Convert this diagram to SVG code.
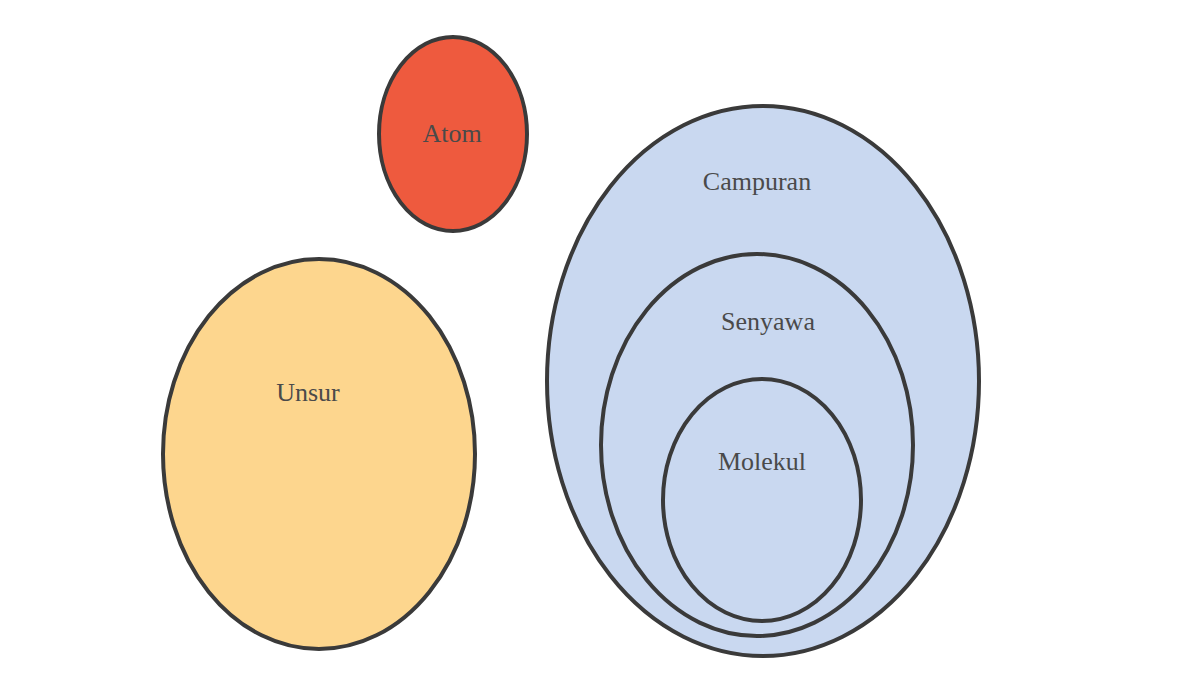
<svg xmlns="http://www.w3.org/2000/svg" width="1200" height="675" viewBox="0 0 1200 675">
<style>
.c{stroke:#3a3a3a;stroke-width:4}
.t{font-family:"Liberation Serif",serif;font-size:26px;fill:#4a4a4a;text-anchor:middle}
</style>
<rect width="1200" height="675" fill="#ffffff"/>
<g id="atom"><ellipse class="c" cx="453" cy="134" rx="74" ry="97" fill="#ee5a3e"/><text class="t" x="452" y="142">Atom</text></g>
<g id="unsur"><ellipse class="c" cx="319" cy="454" rx="156" ry="195" fill="#fdd68e"/><text class="t" x="308" y="401">Unsur</text></g>
<g id="campuran"><ellipse class="c" cx="763" cy="381" rx="216" ry="275" fill="#c9d8f0"/><text class="t" x="757" y="190">Campuran</text></g>
<g id="senyawa"><ellipse class="c" cx="757" cy="445" rx="156" ry="191" fill="#c9d8f0"/><text class="t" x="768" y="330">Senyawa</text></g>
<g id="molekul"><ellipse class="c" cx="762" cy="500" rx="99" ry="121" fill="#c9d8f0"/><text class="t" x="762" y="470">Molekul</text></g>
<g id="connectors"></g>
</svg>
